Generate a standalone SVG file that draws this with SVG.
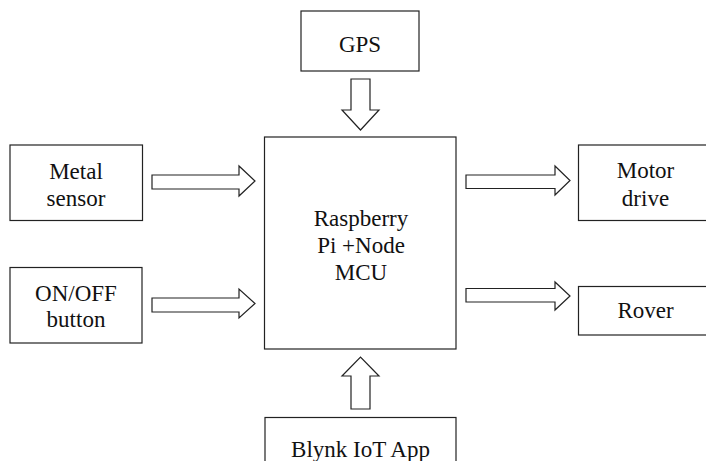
<svg xmlns="http://www.w3.org/2000/svg" width="706" height="461" viewBox="0 0 706 461">
<style>
.box{fill:#fff;stroke:#222;stroke-width:1.2}
.arr{fill:#fff;stroke:#222;stroke-width:1.2;stroke-linejoin:miter}
.t{font-family:'Liberation Serif','DejaVu Serif',serif;font-size:23px;fill:#111;text-anchor:middle}
</style>
<rect width="706" height="461" fill="#fff"/>
<g id="connectors">
<polygon class="arr" points="351,79 370,79 370,110 379,110 360.5,130 342,110 351,110"/>
<polygon class="arr" points="351,409 370,409 370,376 379,376 360.5,357 342,376 351,376"/>
<polygon class="arr" points="152,175 239,175 239,166 255,181 239,196 239,189 152,189"/>
<polygon class="arr" points="152,298 239,298 239,289 255,303.5 239,318 239,312 152,312"/>
<polygon class="arr" points="466,175 555,175 555,166 570,180.5 555,195 555,188.5 466,188.5"/>
<polygon class="arr" points="466,288.5 555,288.5 555,282 570,296 555,310 555,302 466,302"/>
</g>
<g id="gps">
<rect class="box" x="301" y="11" width="118" height="60"/>
<text class="t" x="360" y="52">GPS</text>
</g>
<g id="mcu">
<rect class="box" x="264.5" y="137" width="191.5" height="212"/>
<text class="t" x="361" y="226">Raspberry</text>
<text class="t" x="361" y="253">Pi +Node</text>
<text class="t" x="361" y="280">MCU</text>
</g>
<g id="metal">
<rect class="box" x="10" y="145" width="132.5" height="75.5"/>
<text class="t" x="76" y="179">Metal</text>
<text class="t" x="76" y="206">sensor</text>
</g>
<g id="onoff">
<rect class="box" x="10" y="267.5" width="132" height="75.5"/>
<text class="t" x="76" y="301">ON/OFF</text>
<text class="t" x="76" y="327">button</text>
</g>
<g id="motor">
<rect class="box" x="578.5" y="145" width="135" height="75.5"/>
<text class="t" x="645.5" y="178">Motor</text>
<text class="t" x="645.5" y="206">drive</text>
</g>
<g id="rover">
<rect class="box" x="578.5" y="286.5" width="135" height="48.5"/>
<text class="t" x="645.5" y="318">Rover</text>
</g>
<g id="blynk">
<rect class="box" x="265" y="417.5" width="191" height="60"/>
<text class="t" x="360.5" y="457">Blynk IoT App</text>
</g>
</svg>
